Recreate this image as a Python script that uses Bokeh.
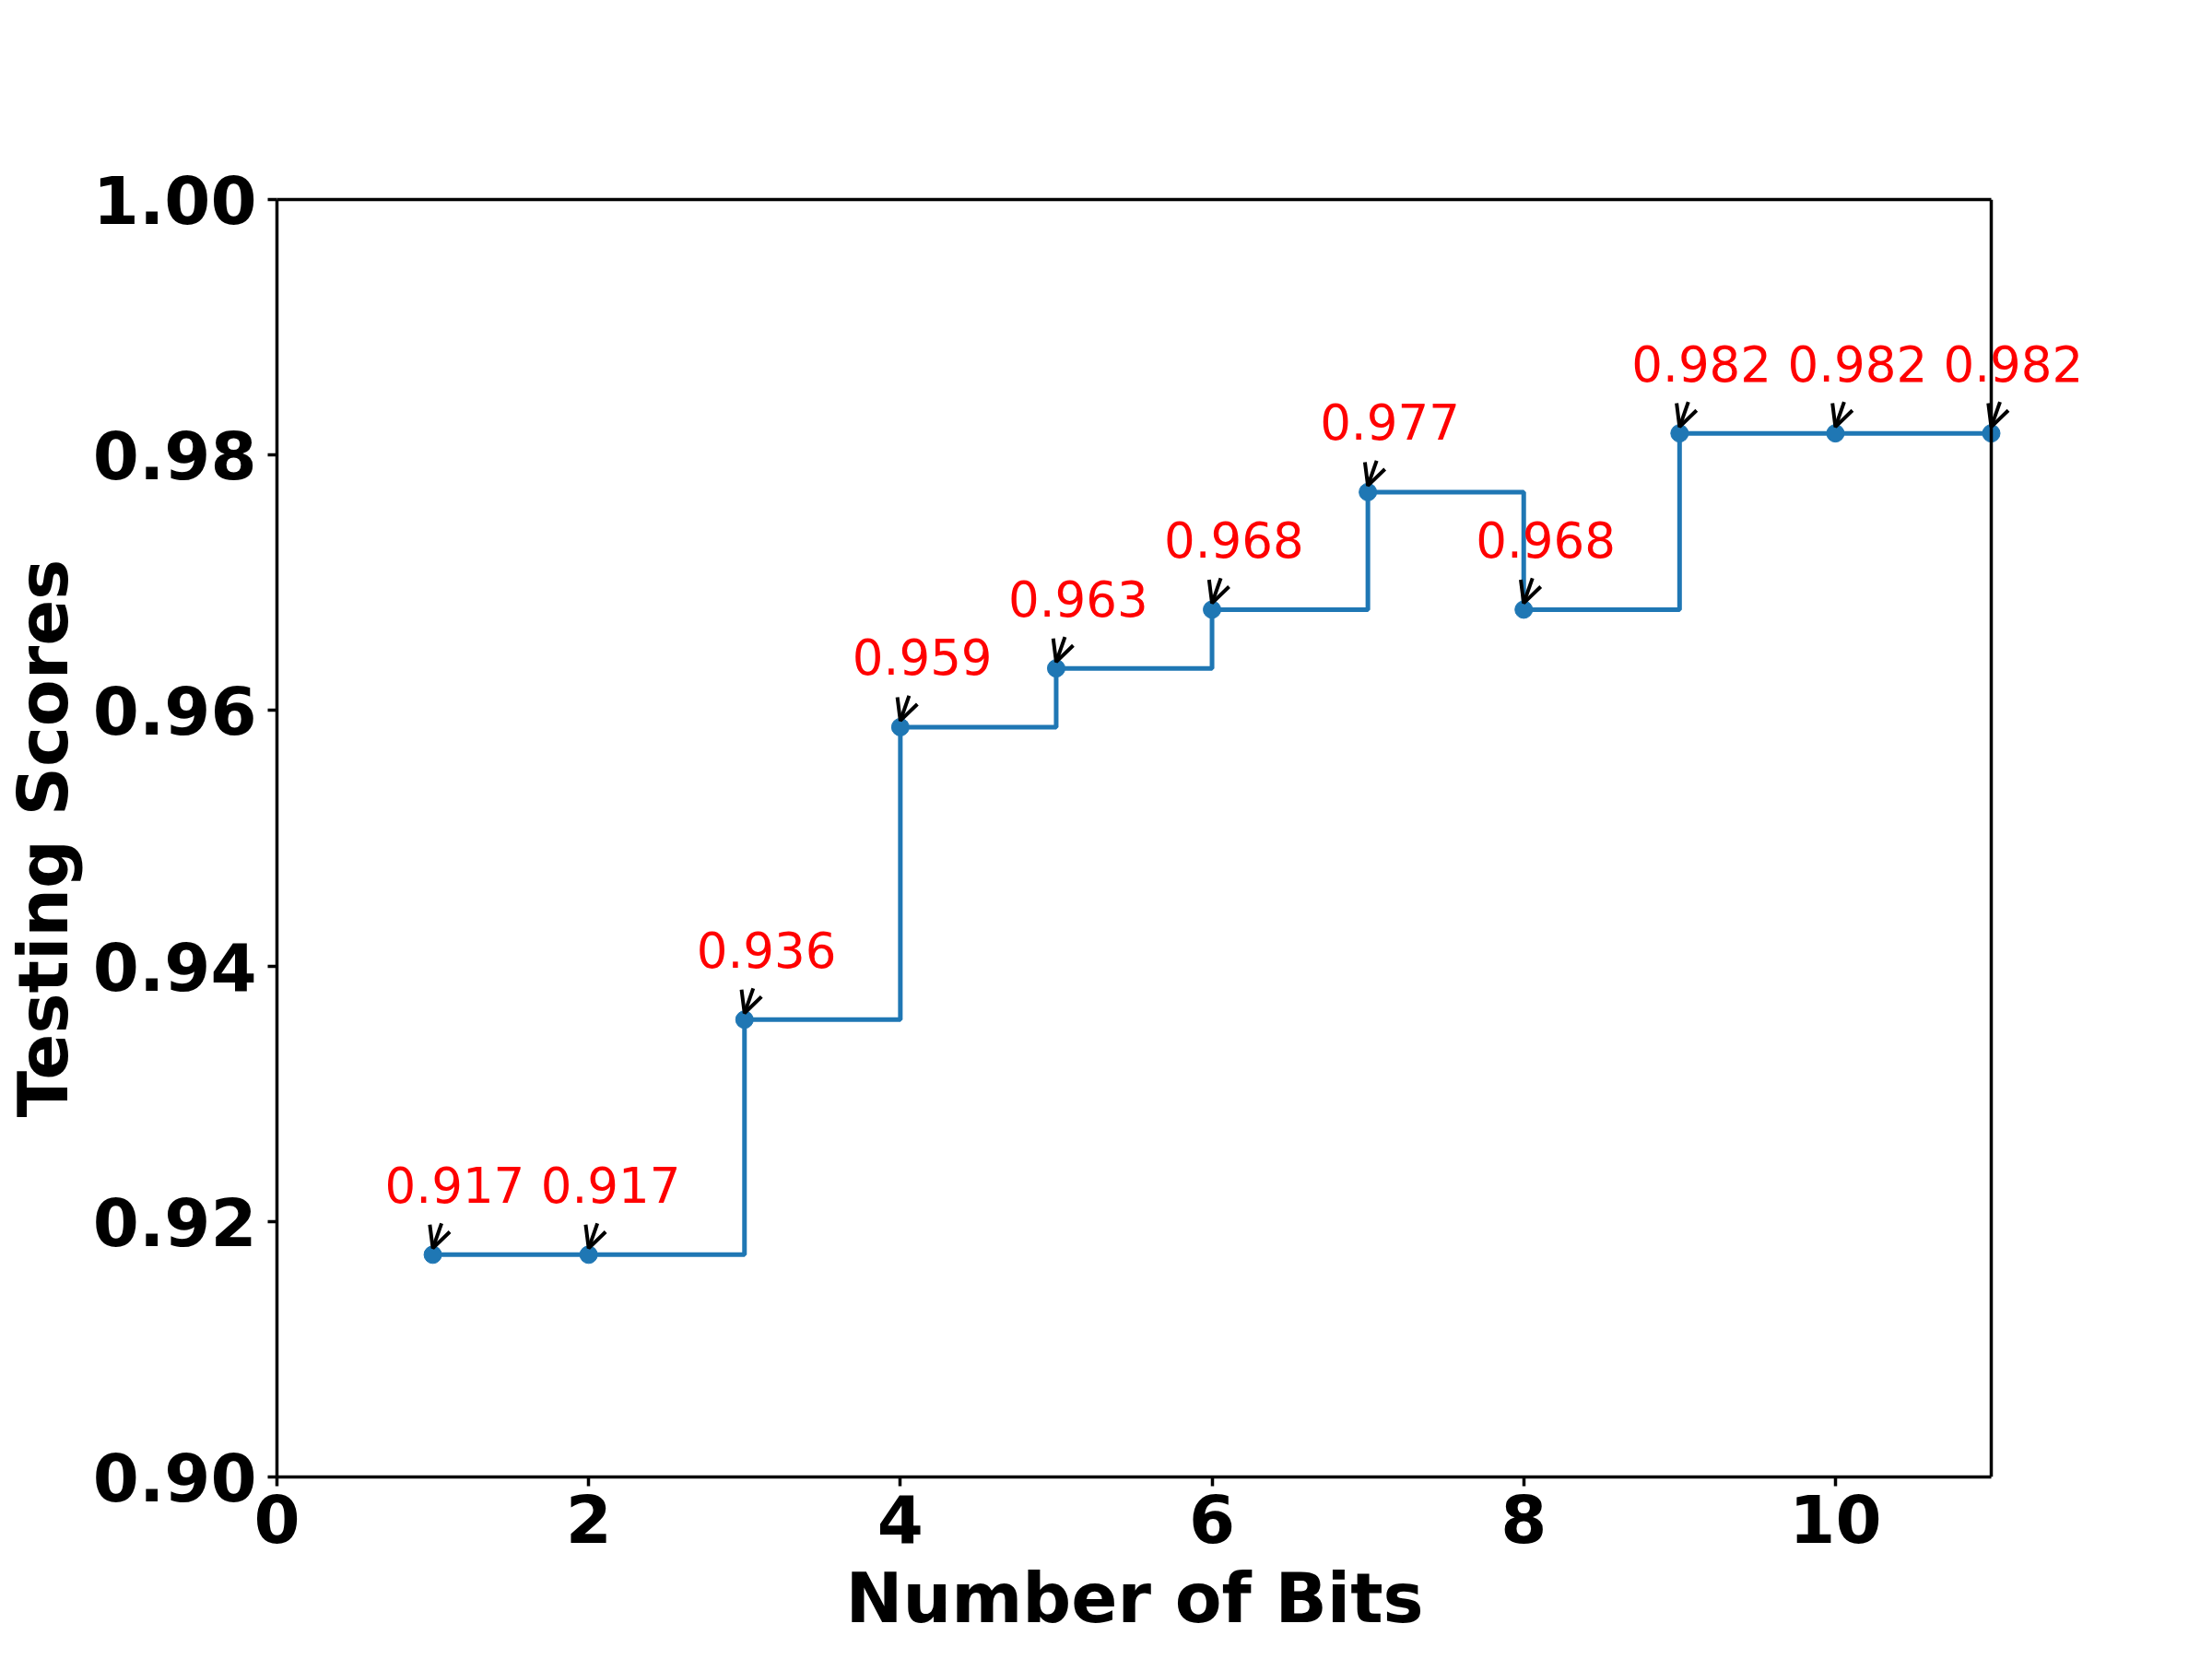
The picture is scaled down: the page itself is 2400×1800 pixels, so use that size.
from bokeh.plotting import figure
from bokeh.models import (ColumnDataSource, Label, Arrow, OpenHead, Span, LinearAxis,
                          FixedTicker, NumeralTickFormatter, Range1d)
from bokeh.embed import file_html
from bokeh.resources import INLINE

# ---- data ----
bits = [1, 2, 3, 4, 5, 6, 7, 8, 9, 10, 11]
scores = [0.9174, 0.9174, 0.9358, 0.9587, 0.9633, 0.9679,
          0.9771, 0.9679, 0.9817, 0.9817, 0.9817]
labels = [f"{s:.3f}" for s in scores]
x_ticks = [0, 2, 4, 6, 8, 10]
y_ticks = [0.90, 0.92, 0.94, 0.96, 0.98, 1.00]

X_LIM = (0, 11)
Y_LIM = (0.90, 1.00)

# ---- layout ----
FRAME_W, FRAME_H = 1860, 1386     # visible axes box in px
EXTRA = 130                        # unclipped room to the right for the last label
LEFT, TOP = 300, 216
W, H = 2392, 1792

px_x = (X_LIM[1] - X_LIM[0]) / FRAME_W
px_y = (Y_LIM[1] - Y_LIM[0]) / FRAME_H
x_end = X_LIM[1] + EXTRA * px_x

p = figure(width=W, height=H, output_backend="svg", toolbar_location=None,
           x_range=Range1d(X_LIM[0], x_end), y_range=Range1d(*Y_LIM),
           min_border_left=LEFT, min_border_top=TOP,
           min_border_right=W - LEFT - FRAME_W - EXTRA,
           min_border_bottom=H - TOP - FRAME_H)
p.grid.visible = False
p.background_fill_color = "white"
p.border_fill_color = "white"
p.outline_line_color = None

xax = p.xaxis[0]
yax = p.yaxis[0]

src = ColumnDataSource(dict(
    x=bits, y=scores,
    xs=[b + 9.5 * px_x for b in bits],
    ys=[s + 34 * px_y for s in scores],
    ye=[s + 7 * px_y for s in scores],
))

p.step("x", "y", source=src, mode="after", line_color="#1f77b4", line_width=5)
p.scatter("x", "y", source=src, size=19, fill_color="#1f77b4", line_color="#1f77b4")

p.add_layout(Arrow(source=src, x_start="xs", y_start="ys", x_end="x", y_end="ye",
                   line_color="black", line_width=4,
                   end=OpenHead(size=23, line_color="black", line_width=4)))

for bx, sy, lab in zip(bits, scores, labels):
    p.add_layout(Label(x=bx, y=sy, text=lab,
                       x_offset=-52, y_offset=76,
                       text_align="left", text_baseline="alphabetic",
                       text_font="DejaVu Sans", text_font_size="53px",
                       text_color="red"))

# right spine of the axes box
p.add_layout(Span(location=X_LIM[1], dimension="height",
                  line_color="black", line_width=3.5))

for ax in (xax, yax):
    ax.axis_line_color = "black"
    ax.axis_line_width = 3.5
    ax.major_tick_line_color = "black"
    ax.major_tick_line_width = 3.5
    ax.major_tick_out = 10
    ax.major_tick_in = 0
    ax.minor_tick_out = 0
    ax.minor_tick_in = 0
    ax.major_label_text_font = "DejaVu Sans"
    ax.major_label_text_font_style = "bold"
    ax.major_label_text_font_size = "72px"
    ax.major_label_text_color = "black"
    ax.axis_label_text_font = "DejaVu Sans"
    ax.axis_label_text_font_style = "bold"
    ax.axis_label_text_font_size = "74px"
    ax.axis_label_text_color = "black"

xax.bounds = X_LIM
xax.ticker = FixedTicker(ticks=x_ticks)
yax.ticker = FixedTicker(ticks=y_ticks)
yax.formatter = NumeralTickFormatter(format="0.00")
xax.major_label_standoff = 8
yax.major_label_standoff = 12
# trailing no-break spaces re-centre the label under the visible axes box
xax.axis_label = "Number of Bits" + "\u00a0" * 5
yax.axis_label = "Testing Scores"
xax.axis_label_standoff = 14
yax.axis_label_standoff = 8

# top spine of the axes box
top_ax = LinearAxis(ticker=FixedTicker(ticks=[]), bounds=X_LIM,
                    axis_line_color="black", axis_line_width=3.5,
                    major_tick_out=0, major_tick_in=0,
                    minor_tick_out=0, minor_tick_in=0,
                    major_label_text_font_size="0px")
p.add_layout(top_ax, "above")

open("out.html", "w").write(file_html(p, INLINE))
